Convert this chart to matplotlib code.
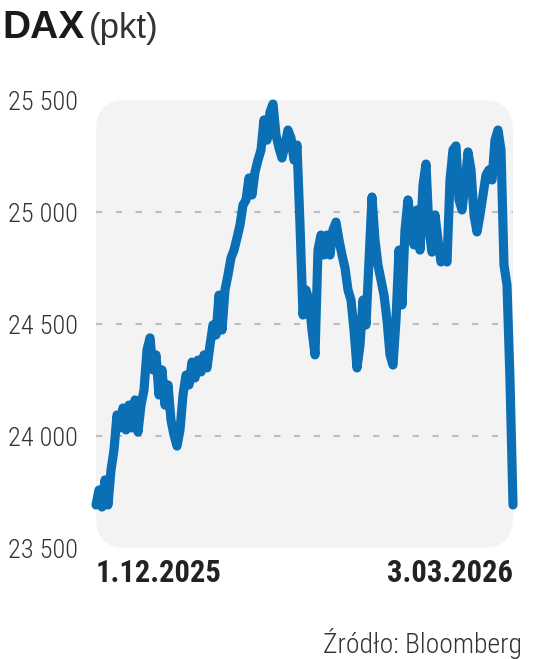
import numpy as np
import matplotlib
matplotlib.use('Agg')
import matplotlib.pyplot as plt
from matplotlib import font_manager
from matplotlib.patches import FancyBboxPatch

# DAX, punkty (od 1.12.2025 do 3.03.2026)
dax = [
    23692, 23759, 23683, 23804, 23692, 23848, 23938, 24094, 24036, 24125,
    24027, 24138, 24036, 24161, 24018, 24138, 24205, 24384, 24438, 24295,
    24362, 24183, 24295, 24138, 24228, 24071, 24004, 23955, 24027, 24183,
    24272, 24228, 24330, 24259, 24339, 24286, 24362, 24304, 24406, 24496,
    24451, 24629, 24473, 24652, 24719, 24795, 24830, 24884, 24942, 25031,
    25054, 25152, 25076, 25179, 25232, 25277, 25411, 25321, 25446, 25482,
    25344, 25286, 25241, 25299, 25366, 25330, 25232, 25299, 24942, 24540,
    24652, 24607, 24473, 24362, 24830, 24897, 24808, 24897, 24808, 24920,
    24955, 24875, 24808, 24750, 24652, 24607, 24473, 24304, 24406, 24607,
    24496, 24786, 25067, 24875, 24763, 24696, 24629, 24518, 24362, 24317,
    24518, 24830, 24585, 24920, 25054, 24942, 24853, 25009, 24830, 25121,
    25214, 24920, 24821, 24987, 24875, 24777, 24830, 24777, 25143, 25277,
    25295, 25054, 25009, 25121, 25268, 25188, 24987, 24911, 24987, 25076,
    25165, 25188, 25143, 25321, 25366, 25277, 24763, 24674, 24250, 23692,
]
y_ticks = [23500, 24000, 24500, 25000, 25500]
grid_levels = [24000, 24500, 25000]
date_labels = ['1.12.2025', '3.03.2026']
title = 'DAX'
unit = '(pkt)'
source = 'Źródło: Bloomberg'


def pick_font(names):
    avail = {f.name for f in font_manager.fontManager.ttflist}
    for n in names:
        if n in avail:
            return n
    return 'DejaVu Sans'


narrow = pick_font(['Liberation Sans Narrow', 'DejaVu Sans Condensed',
                    'Roboto Condensed', 'Liberation Sans'])
sans = pick_font(['Liberation Sans', 'Arial', 'DejaVu Sans'])

W, H = 536, 659
fig = plt.figure(figsize=(W / 100, H / 100), dpi=100)
fig.patch.set_facecolor('white')

# obszar wykresu: x 96-513 px, y 100-548 px
ax = fig.add_axes([96 / W, 1 - 548 / H, 417 / W, 448 / H])
ax.patch.set_visible(False)
panel = FancyBboxPatch((0, 0), 1, 1, boxstyle='round,pad=0,rounding_size=0.07',
                       transform=ax.transAxes, fc='#f3f3f3', ec='none', zorder=0)
ax.add_patch(panel)

x = np.arange(len(dax))
for g in grid_levels:
    ax.axhline(g, color='#bdbdbd', lw=1.5, ls=(0, (3, 6.5)), zorder=1)

ax.plot(x, dax, color='#0b6fb5', lw=6.6, solid_joinstyle='round',
        solid_capstyle='round', zorder=3, clip_on=False)

ax.set_xlim(0, len(dax) - 1)
ax.set_ylim(y_ticks[0], y_ticks[-1])
ax.set_xticks([])
ax.set_yticks(y_ticks)
ax.set_yticklabels([f'{v:,}'.replace(',', ' ') for v in y_ticks],
                   fontfamily=narrow, fontweight='light', fontsize=19,
                   color='#333333')
ax.tick_params(axis='y', length=0, pad=13)
for s in ax.spines.values():
    s.set_visible(False)

# daty pod osią
ax.text(0, -0.022, date_labels[0], transform=ax.get_xaxis_transform(),
        ha='left', va='top', fontfamily=narrow, fontweight='bold',
        fontsize=22, color='#222222')
ax.text(len(dax) - 1, -0.022, date_labels[1], transform=ax.get_xaxis_transform(),
        ha='right', va='top', fontfamily=narrow, fontweight='bold',
        fontsize=22, color='#222222')

# tytuł
fig.text(2 / W, 1 - 38 / H, title, fontfamily=sans, fontweight='bold',
         fontsize=28, color='#1a1a1a', ha='left', va='baseline')
fig.text(89 / W, 1 - 38 / H, unit, fontfamily=sans, fontsize=25,
         color='#333333', ha='left', va='baseline')

fig.text(522 / W, 1 - 653 / H, source, fontfamily=narrow, fontweight='light',
         fontsize=20, color='#333333', ha='right', va='baseline')

fig.savefig('out.png', dpi=100, facecolor='white')
